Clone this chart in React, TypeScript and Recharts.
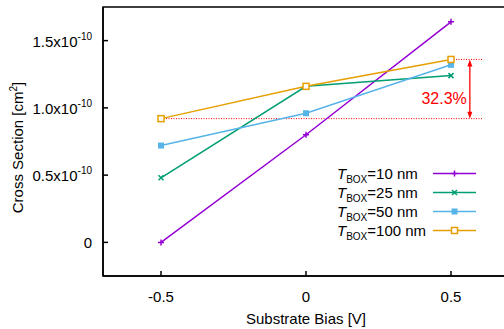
import React from "react";
import {
  LineChart,
  Line,
  XAxis,
  YAxis,
  Label,
  ReferenceLine,
  ReferenceArea,
  ReferenceDot,
} from "recharts";

// substrate bias [V]
const biases = [-0.5, 0, 0.5];
// cross section, units of 1e-10 cm^2
const tbox10 = [0, 0.8, 1.64];
const tbox25 = [0.48, 1.16, 1.24];
const tbox50 = [0.72, 0.96, 1.32];
const tbox100 = [0.92, 1.16, 1.36];

const seriesLabels = ["=10 nm", "=25 nm", "=50 nm", "=100 nm"];
const seriesKeys = ["t10", "t25", "t50", "t100"];
const seriesColors = ["#9400d3", "#009e73", "#56b4e9", "#e69f00"];
const seriesMarkers = ["plus", "cross", "square", "openSquare"];

const xTicks = [-0.5, 0, 0.5];
const yTicks = [0, 0.5, 1.0, 1.5];
const yTickLabels = ["0", "0.5x10", "1.0x10", "1.5x10"];

// 32.3% gap annotation
const gapLow = 0.92;
const gapHigh = 1.36;
const gapArrowX = 0.565;
const gapLineEnd = 0.61;
const gapLabelY = 1.07;
const gapLabel = "32.3%";

const data = biases.map((b, i) => ({
  bias: b,
  t10: tbox10[i],
  t25: tbox25[i],
  t50: tbox50[i],
  t100: tbox100[i],
}));

const FONT = "'Liberation Sans', Arial, sans-serif";
const RED = "#ff0000";

function Marker({ kind, cx, cy, color }: { kind: string; cx: number; cy: number; color: string }) {
  if (kind === "plus")
    return (
      <path
        d={`M${cx - 3},${cy}H${cx + 3}M${cx},${cy - 3}V${cy + 3}`}
        stroke={color}
        strokeWidth={1.5}
        fill="none"
      />
    );
  if (kind === "cross")
    return (
      <path
        d={`M${cx - 2.5},${cy - 2.5}L${cx + 2.5},${cy + 2.5}M${cx - 2.5},${cy + 2.5}L${cx + 2.5},${cy - 2.5}`}
        stroke={color}
        strokeWidth={1.5}
        fill="none"
      />
    );
  if (kind === "square")
    return <rect x={cx - 3} y={cy - 3} width={6} height={6} fill={color} />;
  return (
    <rect
      x={cx - 3}
      y={cy - 3}
      width={6}
      height={6}
      fill="#fff"
      stroke={color}
      strokeWidth={1.5}
    />
  );
}

const makeDot = (kind: string, color: string) => (props: any) => {
  const { cx, cy, index } = props;
  return (
    <g key={`${kind}-${index}`}>
      <Marker kind={kind} cx={cx} cy={cy} color={color} />
    </g>
  );
};

function YTick(props: any) {
  const { x, y, payload } = props;
  const i = yTicks.indexOf(payload.value);
  const base = yTickLabels[i];
  return (
    <text x={x} y={y} dy={6} textAnchor="end" fontSize={15} fill="#000" fontFamily={FONT}>
      {base}
      {payload.value !== 0 && (
        <tspan dy={-7} fontSize={10}>
          -10
        </tspan>
      )}
    </text>
  );
}

function YTitle(props: any) {
  const { viewBox } = props;
  const x = viewBox.x + 23;
  const y = viewBox.y + viewBox.height / 2 + 6;
  return (
    <text
      x={x}
      y={y}
      transform={`rotate(-90, ${x}, ${y})`}
      textAnchor="middle"
      fontSize={15}
      fill="#000"
      fontFamily={FONT}
    >
      Cross Section [cm
      <tspan dy={-6} fontSize={10}>
        2
      </tspan>
      <tspan dy={6}>]</tspan>
    </text>
  );
}

function GapArrow(props: any) {
  const { x1, y1, x2, y2 } = props;
  const top = Math.min(y1, y2);
  const bot = Math.max(y1, y2);
  return (
    <g>
      <line x1={x1} y1={top + 4} x2={x2} y2={bot - 4} stroke={RED} strokeWidth={1.3} />
      <path d={`M${x1},${top}L${x1 - 2.5},${top + 7}L${x1 + 2.5},${top + 7}Z`} fill={RED} />
      <path d={`M${x1},${bot}L${x1 - 2.5},${bot - 7}L${x1 + 2.5},${bot - 7}Z`} fill={RED} />
    </g>
  );
}

function LegendBox() {
  return (
    <div
      style={{
        position: "absolute",
        left: 337,
        top: 164,
        fontFamily: FONT,
        fontSize: 15,
        color: "#000",
      }}
    >
      {seriesLabels.map((label, i) => (
        <div key={label} style={{ display: "flex", alignItems: "center", height: 19, lineHeight: "19px" }}>
          <span style={{ width: 96, whiteSpace: "nowrap" }}>
            <i>T</i>
            <sub style={{ fontSize: 10, lineHeight: 0, verticalAlign: "-4px" }}>BOX</sub>
            {label}
          </span>
          <svg width={44} height={19}>
            <line x1={0} y1={9.5} x2={43} y2={9.5} stroke={seriesColors[i]} strokeWidth={1.5} />
            <Marker kind={seriesMarkers[i]} cx={21.5} cy={9.5} color={seriesColors[i]} />
          </svg>
        </div>
      ))}
    </div>
  );
}

export default function App() {
  return (
    <div
      style={{
        position: "fixed",
        left: 0,
        top: 0,
        width: 504,
        height: 329,
        overflow: "hidden",
        background: "#fff",
      }}
    >
      <LineChart width={512} height={329} data={data} margin={{ top: 7, right: 3, bottom: 0, left: 0 }}>
        <XAxis
          dataKey="bias"
          type="number"
          domain={[-0.7, 0.7]}
          ticks={xTicks}
          tickSize={-5}
          tickMargin={20}
          height={53}
          stroke="#000"
          strokeWidth={1.5}
          tick={{ fill: "#000", fontSize: 15, fontFamily: FONT }}
          tickFormatter={(v: number) => String(v)}
        >
          <Label
            value="Substrate Bias [V]"
            position="insideBottom"
            offset={5}
            fill="#000"
            fontSize={15}
            fontFamily={FONT}
          />
        </XAxis>
        <YAxis
          type="number"
          domain={[-0.25, 1.75]}
          ticks={yTicks}
          tickSize={-5}
          tickMargin={16}
          width={103}
          stroke="#000"
          strokeWidth={1.5}
          tick={<YTick />}
        >
          <Label content={<YTitle />} />
        </YAxis>
        <ReferenceArea
          x1={-0.7}
          x2={0.7}
          y1={-0.25}
          y2={1.75}
          fill="none"
          stroke="#000"
          strokeWidth={1.5}
          ifOverflow="visible"
        />
        <ReferenceLine
          segment={[
            { x: -0.5, y: gapLow },
            { x: gapLineEnd, y: gapLow },
          ]}
          stroke={RED}
          strokeWidth={1}
          strokeDasharray="1 1.5"
        />
        <ReferenceLine
          segment={[
            { x: 0.5, y: gapHigh },
            { x: gapLineEnd, y: gapHigh },
          ]}
          stroke={RED}
          strokeWidth={1}
          strokeDasharray="1 1.5"
        />
        <ReferenceLine
          segment={[
            { x: gapArrowX, y: gapLow },
            { x: gapArrowX, y: gapHigh },
          ]}
          shape={<GapArrow />}
        />
        <ReferenceDot
          x={gapArrowX}
          y={gapLabelY}
          r={0}
          fill="none"
          stroke="none"
          label={{ value: gapLabel, position: "left", offset: 3, fill: RED, fontSize: 16, fontFamily: FONT }}
        />
        {seriesKeys.map((key, i) => (
          <Line
            key={key}
            dataKey={key}
            stroke={seriesColors[i]}
            strokeWidth={1.5}
            dot={makeDot(seriesMarkers[i], seriesColors[i])}
            activeDot={false}
            isAnimationActive={false}
          />
        ))}
      </LineChart>
      <LegendBox />
    </div>
  );
}
